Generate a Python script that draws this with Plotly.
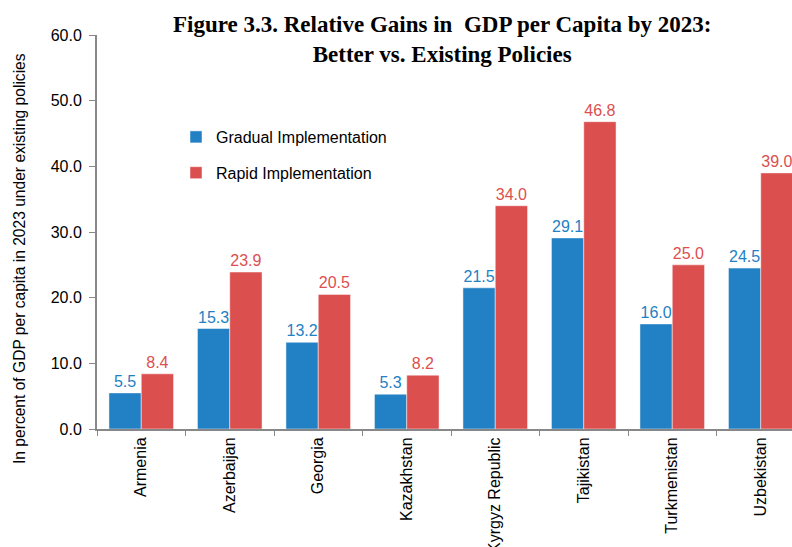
import plotly.graph_objects as go

categories = ["Armenia", "Azerbaijan", "Georgia", "Kazakhstan", "Kyrgyz Republic",
              "Tajikistan", "Turkmenistan", "Uzbekistan"]
gradual = [5.5, 15.3, 13.2, 5.3, 21.5, 29.1, 16.0, 24.5]
rapid = [8.4, 23.9, 20.5, 8.2, 34.0, 46.8, 25.0, 39.0]
y_ticks = [0, 10, 20, 30, 40, 50, 60]

BLUE = "#2281C4"
RED = "#DC4F4F"
FONT = "Liberation Sans, Arial"

W, H = 792, 547
L, T, R = 97, 35, 0
B = H - 429
PW, PH = W - L - R, H - T - B


def px(x):
    return (x - L) / PW


def py(y):
    return 1 - (y - T) / PH


fig = go.Figure()
fig.add_trace(go.Bar(
    x=categories, y=gradual, name="Gradual Implementation", legendgroup="g",
    marker=dict(color=BLUE, line=dict(color="rgba(255,255,255,0.6)", width=0.8)),
    texttemplate="%{y:.1f}", textposition="outside",
    textfont=dict(color=BLUE, size=16, family=FONT),
    cliponaxis=False,
))
fig.add_trace(go.Bar(
    x=categories, y=rapid, name="Rapid Implementation", legendgroup="r",
    marker=dict(color=RED, line=dict(color="rgba(255,255,255,0.6)", width=0.8)),
    texttemplate="%{y:.1f}", textposition="outside",
    textfont=dict(color=RED, size=16, family=FONT),
    cliponaxis=False,
))

fig.update_layout(
    width=W, height=H,
    margin=dict(l=L, r=R, t=T, b=B),
    paper_bgcolor="white", plot_bgcolor="white",
    barmode="group", bargap=0.27, bargroupgap=0,
    font=dict(family=FONT, size=15, color="black"),
    showlegend=True,
    legend=dict(x=px(176), y=py(120), xanchor="left", yanchor="top",
                bgcolor="rgba(0,0,0,0)", font=dict(size=16),
                itemwidth=30, tracegroupgap=12),
    annotations=[
        dict(
            text="<b>Figure 3.3. Relative Gains in  GDP per Capita by 2023:</b><br><b>Better vs. Existing Policies</b>",
            x=px(442), y=py(39), xref="paper", yref="paper",
            xanchor="center", yanchor="middle", showarrow=False,
            font=dict(family="Liberation Serif, Times New Roman, serif", size=23, color="black"),
            align="center",
        ),
        dict(
            text="In percent of GDP per capita in 2023 under existing policies",
            x=px(19), y=py(259), xref="paper", yref="paper",
            xanchor="center", yanchor="middle", showarrow=False, textangle=-90,
            font=dict(family=FONT, size=15.6, color="black"),
        ),
    ],
)

fig.update_xaxes(
    range=[-0.5, 7.353], showline=True, linecolor="#888888", linewidth=2,
    ticks="outside", tickson="boundaries", ticklen=5, tickcolor="#888888",
    tickangle=-90, tickfont=dict(size=16), showgrid=False, automargin=False,
)
fig.update_yaxes(
    range=[0, 60], tickvals=y_ticks, ticktext=[f"{v:.1f}" for v in y_ticks],
    showline=True, linecolor="#888888", linewidth=2,
    ticks="outside", ticklen=6, tickcolor="#888888", showgrid=False,
    zeroline=False, tickfont=dict(size=16), ticklabelstandoff=4,
    automargin=False,
)

fig.write_html(
    "out.html",
    config={"displayModeBar": False},
    post_script="document.body.style.margin='0';document.body.style.overflow='hidden';",
)
